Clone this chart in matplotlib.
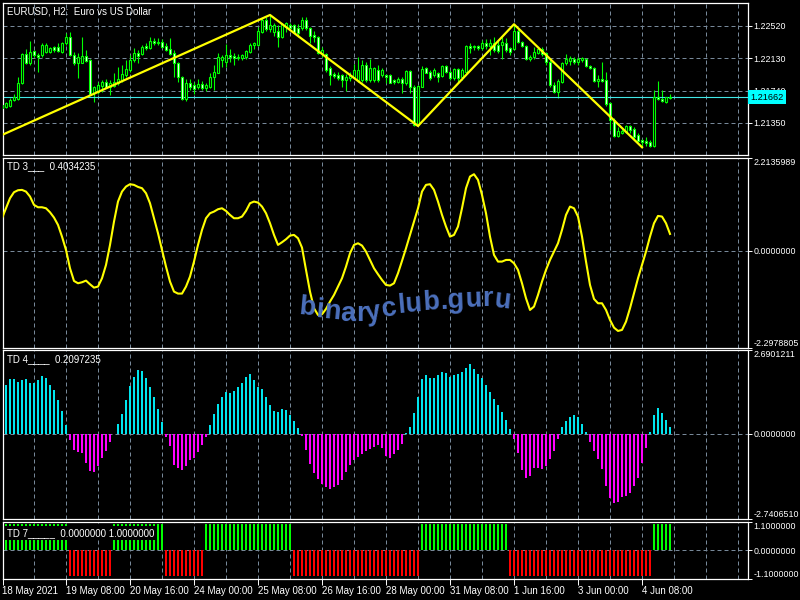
import matplotlib
matplotlib.use("Agg")
import matplotlib.pyplot as plt
from matplotlib.font_manager import FontProperties
import numpy as np

# EURUSD H2 candles, bar index 0..167
opens = [
    1.21528, 1.21540, 1.21556, 1.21628, 1.21640, 1.21829, 1.22183, 1.22070, 1.22219, 1.22171,
    1.22171, 1.22211, 1.22211, 1.22263, 1.22271, 1.22211, 1.22311, 1.22384, 1.22171, 1.22070,
    1.22078, 1.22159, 1.22110, 1.21708, 1.21729, 1.21797, 1.21849, 1.21781, 1.21797, 1.21829,
    1.21869, 1.21930, 1.21990, 1.22110, 1.22199, 1.22183, 1.22279, 1.22251, 1.22340, 1.22311,
    1.22324, 1.22279, 1.22239, 1.22191, 1.22070, 1.21901, 1.21636, 1.21829, 1.21809, 1.21781,
    1.21817, 1.21769, 1.21781, 1.21901, 1.21958, 1.22110, 1.22090, 1.22171, 1.22159, 1.22131,
    1.22131, 1.22143, 1.22211, 1.22291, 1.22291, 1.22452, 1.22593, 1.22480, 1.22452, 1.22464,
    1.22392, 1.22512, 1.22533, 1.22533, 1.22492, 1.22492, 1.22593, 1.22492, 1.22412, 1.22384,
    1.22191, 1.22183, 1.22010, 1.21942, 1.21930, 1.21930, 1.21869, 1.21889, 1.21909, 1.21869,
    1.21869, 1.22050, 1.21869, 1.21869, 1.21990, 1.21930, 1.21930, 1.21930, 1.21869, 1.21849,
    1.21877, 1.21829, 1.21978, 1.21781, 1.21327, 1.21789, 1.22010, 1.21970, 1.21930, 1.21950,
    1.21917, 1.22038, 1.21970, 1.21889, 1.21998, 1.21901, 1.21970, 1.22279, 1.22263, 1.22279,
    1.22251, 1.22311, 1.22279, 1.22311, 1.22291, 1.22291, 1.22311, 1.22251, 1.22239, 1.22460,
    1.22328, 1.22283, 1.22118, 1.22143, 1.22199, 1.22239, 1.22191, 1.22090, 1.21809, 1.21729,
    1.21849, 1.22070, 1.22102, 1.22118, 1.22090, 1.22110, 1.22118, 1.22038, 1.22010, 1.21861,
    1.21881, 1.21869, 1.21588, 1.21387, 1.21194, 1.21234, 1.21246, 1.21314, 1.21274, 1.21206,
    1.21146, 1.21130, 1.21126, 1.21073, 1.21668, 1.21644, 1.21608, 1.21648,
]
highs = [
    1.21588, 1.21608, 1.21648, 1.21700, 1.21901, 1.22199, 1.22239, 1.22344, 1.22231, 1.22199,
    1.22311, 1.22311, 1.22271, 1.22279, 1.22319, 1.22332, 1.22440, 1.22444, 1.22211, 1.22191,
    1.22392, 1.22231, 1.22127, 1.21797, 1.21849, 1.21869, 1.21877, 1.21869, 1.21950, 1.22030,
    1.22050, 1.22110, 1.22171, 1.22251, 1.22231, 1.22291, 1.22311, 1.22384, 1.22372, 1.22372,
    1.22360, 1.22311, 1.22372, 1.22231, 1.22090, 1.21917, 1.21877, 1.21877, 1.21849, 1.21877,
    1.21861, 1.21837, 1.21950, 1.22050, 1.22191, 1.22171, 1.22303, 1.22239, 1.22191, 1.22183,
    1.22183, 1.22231, 1.22311, 1.22332, 1.22512, 1.22613, 1.22633, 1.22653, 1.22561, 1.22533,
    1.22561, 1.22573, 1.22561, 1.22545, 1.22545, 1.22625, 1.22633, 1.22504, 1.22464, 1.22400,
    1.22271, 1.22199, 1.22038, 1.21970, 1.21970, 1.21942, 1.21942, 1.21970, 1.22062, 1.22143,
    1.22110, 1.22090, 1.22118, 1.22030, 1.22050, 1.22010, 1.21942, 1.21942, 1.21877, 1.21901,
    1.21909, 1.21990, 1.21990, 1.21809, 1.21809, 1.22038, 1.22030, 1.21990, 1.22010, 1.21970,
    1.22050, 1.22050, 1.21990, 1.22010, 1.22010, 1.22010, 1.22291, 1.22311, 1.22291, 1.22291,
    1.22352, 1.22360, 1.22360, 1.22392, 1.22352, 1.22392, 1.22372, 1.22271, 1.22541, 1.22480,
    1.22344, 1.22291, 1.22171, 1.22263, 1.22251, 1.22263, 1.22211, 1.22110, 1.21849, 1.21877,
    1.22090, 1.22183, 1.22159, 1.22143, 1.22143, 1.22151, 1.22131, 1.22050, 1.22030, 1.21930,
    1.22090, 1.21970, 1.21608, 1.21407, 1.21306, 1.21274, 1.21327, 1.21327, 1.21298, 1.21234,
    1.21154, 1.21186, 1.21146, 1.21749, 1.21861, 1.21749, 1.21668, 1.21700,
]
lows = [
    1.21507, 1.21528, 1.21548, 1.21620, 1.21628, 1.21821, 1.22062, 1.22050, 1.22151, 1.21970,
    1.22143, 1.22191, 1.22199, 1.22211, 1.22211, 1.22191, 1.22291, 1.22159, 1.22050, 1.21889,
    1.22070, 1.22090, 1.21688, 1.21608, 1.21696, 1.21729, 1.21769, 1.21688, 1.21789, 1.21809,
    1.21849, 1.21909, 1.21970, 1.22090, 1.22070, 1.22171, 1.22231, 1.22243, 1.22291, 1.22291,
    1.22251, 1.22219, 1.22171, 1.21909, 1.21849, 1.21628, 1.21620, 1.21749, 1.21700, 1.21757,
    1.21749, 1.21737, 1.21769, 1.21749, 1.21950, 1.22030, 1.22030, 1.22090, 1.22050, 1.22110,
    1.22110, 1.22118, 1.22191, 1.22239, 1.22279, 1.22432, 1.22464, 1.22452, 1.22400, 1.22271,
    1.22372, 1.22452, 1.22472, 1.22432, 1.22392, 1.22472, 1.22472, 1.22311, 1.22332, 1.22183,
    1.22151, 1.21970, 1.21809, 1.21889, 1.21869, 1.21781, 1.21741, 1.21861, 1.21889, 1.21849,
    1.21849, 1.21849, 1.21849, 1.21849, 1.21849, 1.21909, 1.21837, 1.21829, 1.21821, 1.21829,
    1.21716, 1.21809, 1.21716, 1.21314, 1.21314, 1.21781, 1.21950, 1.21869, 1.21901, 1.21849,
    1.21901, 1.21950, 1.21869, 1.21869, 1.21849, 1.21869, 1.21950, 1.22199, 1.22231, 1.22231,
    1.22231, 1.22239, 1.22171, 1.22211, 1.22199, 1.22118, 1.22211, 1.22171, 1.22231, 1.22311,
    1.22271, 1.22110, 1.22102, 1.22118, 1.22183, 1.22159, 1.22050, 1.21789, 1.21708, 1.21648,
    1.21837, 1.22050, 1.22050, 1.22062, 1.22050, 1.22090, 1.22030, 1.21998, 1.21849, 1.21781,
    1.21849, 1.21556, 1.21266, 1.21186, 1.21178, 1.21218, 1.21226, 1.21234, 1.21146, 1.21126,
    1.21058, 1.21073, 1.21065, 1.21065, 1.21628, 1.21608, 1.21596, 1.21636,
]
closes = [
    1.21568, 1.21588, 1.21628, 1.21668, 1.21829, 1.22183, 1.22070, 1.22211, 1.22171, 1.22151,
    1.22291, 1.22291, 1.22251, 1.22231, 1.22223, 1.22311, 1.22384, 1.22171, 1.22070, 1.22151,
    1.22159, 1.22098, 1.21700, 1.21781, 1.21809, 1.21849, 1.21781, 1.21837, 1.21849, 1.21881,
    1.21942, 1.21998, 1.22110, 1.22191, 1.22159, 1.22271, 1.22251, 1.22336, 1.22311, 1.22332,
    1.22271, 1.22231, 1.22183, 1.22070, 1.21901, 1.21636, 1.21829, 1.21781, 1.21757, 1.21817,
    1.21769, 1.21809, 1.21901, 1.21970, 1.22151, 1.22143, 1.22171, 1.22143, 1.22131, 1.22151,
    1.22171, 1.22223, 1.22291, 1.22319, 1.22460, 1.22593, 1.22480, 1.22533, 1.22533, 1.22392,
    1.22545, 1.22553, 1.22492, 1.22452, 1.22432, 1.22593, 1.22492, 1.22400, 1.22384, 1.22191,
    1.22231, 1.21990, 1.21930, 1.21917, 1.21889, 1.21869, 1.21901, 1.21917, 1.21990, 1.21990,
    1.22050, 1.21869, 1.22010, 1.22010, 1.21869, 1.21990, 1.21901, 1.21837, 1.21849, 1.21885,
    1.21829, 1.21978, 1.21781, 1.21327, 1.21797, 1.21998, 1.21958, 1.21889, 1.21990, 1.21909,
    1.22038, 1.21970, 1.21889, 1.21998, 1.21889, 1.21990, 1.22279, 1.22251, 1.22279, 1.22251,
    1.22311, 1.22279, 1.22311, 1.22231, 1.22223, 1.22332, 1.22231, 1.22211, 1.22460, 1.22332,
    1.22283, 1.22118, 1.22151, 1.22211, 1.22239, 1.22183, 1.22090, 1.21809, 1.21729, 1.21861,
    1.22070, 1.22118, 1.22131, 1.22090, 1.22118, 1.22131, 1.22038, 1.22010, 1.21861, 1.21881,
    1.21861, 1.21580, 1.21387, 1.21194, 1.21258, 1.21258, 1.21314, 1.21266, 1.21186, 1.21138,
    1.21126, 1.21113, 1.21073, 1.21668, 1.21636, 1.21616, 1.21660, 1.21662,
]
last_price = 1.21662

# zigzag pivots (bar index, price)
zz_bars = [0, 67, 104, 128, 160]
zz_prices = [1.21206, 1.22653, 1.21314, 1.22541, 1.21058]

# TD 3 line, bars 0..167
td3 = [
    0.776, 1.013, 1.251, 1.394, 1.441, 1.449, 1.409, 1.291, 1.093, 1.037,
    1.037, 1.013, 0.918, 0.792, 0.618, 0.340, 0.024, -0.412, -0.713, -0.768,
    -0.744, -0.705, -0.792, -0.871, -0.847, -0.649, -0.333, 0.143, 0.697, 1.172,
    1.409, 1.528, 1.584, 1.568, 1.520, 1.489, 1.370, 1.132, 0.776, 0.420,
    0.024, -0.372, -0.728, -0.966, -1.013, -1.013, -0.847, -0.610, -0.253, 0.143,
    0.499, 0.776, 0.895, 0.934, 0.990, 1.013, 0.950, 0.855, 0.776, 0.776,
    0.816, 0.950, 1.132, 1.172, 1.148, 1.053, 0.895, 0.657, 0.380, 0.143,
    0.206, 0.277, 0.364, 0.380, 0.301, 0.079, -0.451, -0.966, -1.362, -1.520,
    -1.504, -1.378, -1.203, -1.045, -0.847, -0.649, -0.372, -0.055, 0.143, 0.182,
    0.127, -0.016, -0.214, -0.412, -0.554, -0.689, -0.808, -0.823, -0.768, -0.530,
    -0.238, 0.063, 0.380, 0.697, 1.013, 1.409, 1.568, 1.584, 1.449, 1.172,
    0.855, 0.578, 0.340, 0.380, 0.578, 1.013, 1.489, 1.766, 1.821, 1.686,
    1.330, 0.895, 0.340, -0.095, -0.253, -0.253, -0.214, -0.214, -0.293, -0.451,
    -0.768, -1.124, -1.401, -1.322, -1.045, -0.728, -0.451, -0.214, -0.016, 0.182,
    0.499, 0.855, 1.053, 1.013, 0.816, 0.340, -0.253, -0.808, -1.140, -1.243,
    -1.243, -1.401, -1.639, -1.821, -1.900, -1.876, -1.679, -1.362, -1.006, -0.649,
    -0.333, -0.016, 0.340, 0.657, 0.831, 0.816, 0.657, 0.4034235,
]

# TD 4 histogram, bars 1..167
td4 = [
    1.55, 1.75, 1.75, 1.64, 1.71, 1.75, 1.62, 1.62, 1.71, 1.86,
    1.78, 1.57, 1.40, 1.07, 0.72, 0.27, -0.21, -0.54, -0.59, -0.63,
    -0.95, -1.21, -1.24, -1.03, -0.78, -0.57, -0.27, -0.03, 0.30, 0.62,
    1.07, 1.53, 1.81, 2.03, 2.00, 1.79, 1.49, 1.18, 0.78, 0.37,
    -0.11, -0.41, -1.00, -1.12, -1.17, -1.04, -0.85, -0.78, -0.59, -0.36,
    -0.11, 0.27, 0.62, 0.96, 1.16, 1.32, 1.30, 1.36, 1.49, 1.61,
    1.80, 1.91, 1.71, 1.48, 1.42, 1.18, 0.91, 0.71, 0.69, 0.78,
    0.76, 0.59, 0.39, 0.19, -0.09, -0.54, -0.99, -1.26, -1.45, -1.61,
    -1.71, -1.78, -1.71, -1.66, -1.50, -1.23, -1.01, -0.86, -0.75, -0.66,
    -0.56, -0.50, -0.43, -0.36, -0.45, -0.72, -0.78, -0.66, -0.54, -0.34,
    0.02, 0.21, 0.65, 1.16, 1.75, 1.88, 1.79, 1.79, 1.88, 1.96,
    1.95, 1.81, 1.87, 1.91, 1.98, 2.10, 2.23, 2.06, 1.91, 1.77,
    1.56, 1.34, 1.12, 0.91, 0.70, 0.43, 0.14, -0.16, -0.62, -1.16,
    -1.41, -1.36, -1.12, -1.09, -1.15, -1.05, -0.82, -0.56, -0.17, 0.21,
    0.41, 0.54, 0.59, 0.54, 0.32, 0.04, -0.27, -0.56, -0.80, -1.13,
    -1.68, -2.06, -2.23, -2.19, -2.03, -1.99, -1.91, -1.68, -1.41, -0.96,
    -0.45, 0.06, 0.59, 0.81, 0.65, 0.43, 0.2097235,
]

# TD 7 state, bars 1..167 (+1 green, -1 red)
td7 = [
    1, 1, 1, 1, 1, 1, 1, 1, 1, 1, 1, 1, 1, 1, 1, 1,
    -1, -1, -1, -1, -1, -1, -1, -1, -1, -1, -1,
    1, 1, 1, 1, 1, 1, 1, 1, 1, 1, 1, 1, 1,
    -1, -1, -1, -1, -1, -1, -1, -1, -1, -1,
    1, 1, 1, 1, 1, 1, 1, 1, 1, 1, 1, 1, 1, 1, 1, 1, 1, 1, 1, 1, 1, 1,
    -1, -1, -1, -1, -1, -1, -1, -1, -1, -1, -1, -1, -1, -1, -1, -1,
    -1, -1, -1, -1, -1, -1, -1, -1, -1, -1, -1, -1, -1, -1, -1, -1,
    1, 1, 1, 1, 1, 1, 1, 1, 1, 1, 1, 1, 1, 1, 1, 1, 1, 1, 1, 1, 1, 1,
    -1, -1, -1, -1, -1, -1, -1, -1, -1, -1, -1, -1, -1, -1, -1, -1, -1, -1,
    -1, -1, -1, -1, -1, -1, -1, -1, -1, -1, -1, -1, -1, -1, -1, -1, -1, -1,
    1, 1, 1, 1, 1,
]

time_labels = ["18 May 2021", "19 May 08:00", "20 May 16:00", "24 May 00:00",
               "25 May 08:00", "26 May 16:00", "28 May 00:00", "31 May 08:00",
               "1 Jun 16:00", "3 Jun 00:00", "4 Jun 08:00"]
price_ticks = [1.21350, 1.21740, 1.22130, 1.22520]
watermark = "binaryclub.guru"

GREEN = "#00ff00"
GRID = "#778899"
DASH = (0, (4, 3))
XMIN, XMAX = 0.125, 186.375


def px_rect(top, bottom):
    return [2.5 / 800, 1 - bottom / 600, 745 / 800, (bottom - top) / 600]


def base_axes(fig, top, bottom, ylim):
    ax = fig.add_axes(px_rect(top, bottom))
    ax.set_facecolor("black")
    ax.set_xlim(XMIN, XMAX)
    ax.set_ylim(*ylim)
    for s in ax.spines.values():
        s.set_color("white")
        s.set_linewidth(0.9)
    ax.yaxis.tick_right()
    ax.tick_params(axis="y", colors="white", labelcolor="white", length=3,
                   width=0.7, pad=1.5, labelsize=6.4)
    ax.tick_params(axis="x", length=0, labelbottom=False)
    for gx in range(8, 186, 8):
        ax.axvline(gx, color=GRID, lw=0.72, ls=DASH, zorder=1)
    return ax


def indicator_ticks(ax, lo, hi):
    ax.set_yticks([lo, 0, hi])
    labels = ax.set_yticklabels([f"{lo:.7f}", "0.0000000", f"{hi:.7f}"])
    labels[0].set_va("bottom")
    labels[2].set_va("top")
    ax.axhline(0, color=GRID, lw=0.72, ls=DASH, zorder=1)


def draw_watermark(fig):
    # letters follow a slightly warped baseline, like the site's logo overlay
    prop = FontProperties(family="Liberation Sans", weight="bold", size=19.5)
    renderer = fig.canvas.get_renderer()
    widths = [renderer.get_text_width_height_descent(watermark[:k], prop, ismath=False)[0]
              for k in range(len(watermark) + 1)]
    scale = 212 / widths[-1]
    curve_x = [300, 345, 370, 400, 440, 490, 512]
    curve_y = [314, 321, 321, 313, 309, 306, 310]
    for k, ch in enumerate(watermark):
        cx = 298 + scale * (widths[k] + widths[k + 1]) / 2
        by = np.interp(cx, curve_x, curve_y)
        slope = (np.interp(cx + 4, curve_x, curve_y) - np.interp(cx - 4, curve_x, curve_y)) / 8
        ang = -0.6 * np.degrees(np.arctan(slope))
        fig.text(cx / 800, 1 - by / 600, ch, fontproperties=prop, rotation=ang,
                 rotation_mode="anchor", ha="center", va="baseline",
                 color="#4c70bc", zorder=20)


def main():
    plt.rcParams["font.family"] = ["Liberation Sans", "DejaVu Sans"]
    fig = plt.figure(figsize=(8, 6), dpi=100, facecolor="black")

    # price panel
    ax = base_axes(fig, 2.7, 155, (1.20964, 1.22801))
    ax.set_yticks(price_ticks)
    ax.set_yticklabels([f"{p:.5f}" for p in price_ticks])
    for p in price_ticks:
        ax.axhline(p, color=GRID, lw=0.72, ls=DASH, zorder=1)

    x = np.arange(len(opens))
    o = np.array(opens)
    h = np.array(highs)
    lo = np.array(lows)
    c = np.array(closes)
    ax.vlines(x, lo, h, color=GREEN, lw=0.8, zorder=2)
    up = c >= o
    ax.bar(x[up], (c - o)[up], bottom=o[up], width=0.5, color="black",
           edgecolor=GREEN, linewidth=0.8, zorder=3)
    ax.bar(x[~up], (o - c)[~up], bottom=c[~up], width=0.5, color="white",
           edgecolor=GREEN, linewidth=0.8, zorder=3)

    ax.plot(zz_bars, zz_prices, color="#ffff00", lw=1.6, zorder=4)
    ax.axhline(last_price, color="#40e8e8", lw=0.8, zorder=2)
    ax.text(1.0035, last_price, f"{last_price:.5f}", transform=ax.get_yaxis_transform(),
            ha="left", va="center", fontsize=6.6, color="black", zorder=10,
            clip_on=False,
            bbox=dict(boxstyle="square,pad=0.25", facecolor="#00ffff", edgecolor="none"))
    ax.text(0.006, 0.94, "EURUSD, H2:  Euro vs US Dollar", transform=ax.transAxes,
            ha="left", va="center", fontsize=7, color="white")

    # TD 3 panel
    lo3, hi3 = -2.2978805, 2.2135989
    ax3 = base_axes(fig, 157.7, 347.7, (lo3, hi3))
    indicator_ticks(ax3, lo3, hi3)
    ax3.plot(np.arange(len(td3)), td3, color="#ffff00", lw=1.5, zorder=3)
    ax3.text(0.006, 0.955, f"TD 3___  {td3[-1]:.7f}", transform=ax3.transAxes,
             ha="left", va="center", fontsize=7, color="white")

    # TD 4 panel
    lo4, hi4 = -2.7406510, 2.6901211
    ax4 = base_axes(fig, 349.7, 519, (lo4, hi4))
    indicator_ticks(ax4, lo4, hi4)
    x4 = np.arange(1, len(td4) + 1)
    v4 = np.array(td4)
    ax4.bar(x4, v4, width=0.5, color=np.where(v4 >= 0, "#00e5ee", "#ff00ff"),
            linewidth=0, zorder=3)
    ax4.text(0.006, 0.945, f"TD 4____  {td4[-1]:.7f}", transform=ax4.transAxes,
             ha="left", va="center", fontsize=7, color="white")

    # TD 7 panel
    ax7 = base_axes(fig, 521.7, 579, (-1.1, 1.1))
    indicator_ticks(ax7, -1.1, 1.1)
    x7 = np.arange(1, len(td7) + 1)
    v7 = np.array(td7)
    ax7.bar(x7, v7, width=0.5, color=np.where(v7 > 0, GREEN, "#ff0000"),
            linewidth=0, zorder=3)
    ax7.text(0.006, 0.8, "TD 7_____  0.0000000 1.0000000", transform=ax7.transAxes,
             ha="left", va="center", fontsize=7, color="white", zorder=6,
             bbox=dict(boxstyle="square,pad=0.2", facecolor="black", edgecolor="none"))

    ticks = [XMIN] + [16 * k for k in range(1, len(time_labels))]
    ax7.set_xticks(ticks)
    ax7.set_xticklabels(time_labels)
    ax7.tick_params(axis="x", length=4, width=0.7, colors="white", labelcolor="white",
                    labelbottom=True, labelsize=7, pad=1)
    for t in ax7.get_xticklabels():
        t.set_ha("left")

    draw_watermark(fig)

    fig.savefig("out.png", dpi=100, facecolor="black")


if __name__ == "__main__":
    main()
